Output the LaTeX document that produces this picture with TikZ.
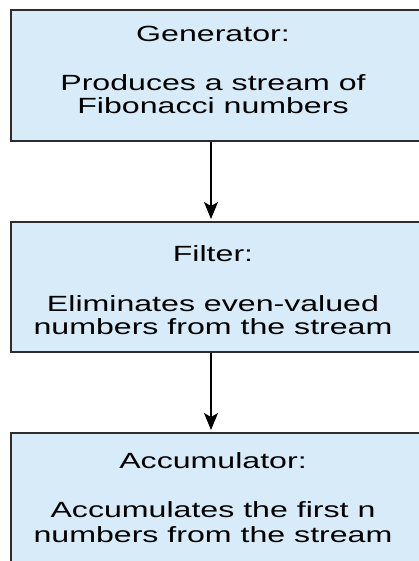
\documentclass[tikz,border=0pt]{standalone}
\usepackage{fontspec}
\setmainfont{Liberation Sans}[FakeStretch=1.46]
\usetikzlibrary{arrows.meta}
\definecolor{stagefill}{RGB}{215,235,249}
\definecolor{stageline}{RGB}{45,45,45}

\begin{document}
\begin{tikzpicture}[x=1pt,y=-1pt,
				stage/.style={draw=stageline,line width=2pt,fill=stagefill,rectangle,
					minimum width=450pt,inner sep=0pt},
				txt/.style={anchor=base,inner sep=0pt,font=\fontsize{22}{23}\selectfont},
				flow/.style={line width=1.3pt,-{Stealth[length=17pt,width=14pt,inset=4pt]},
					shorten >=2pt}]
\useasboundingbox (0,0) rectangle (419,561);
\clip (0,0) rectangle (419,561);
\fill[white] (0,0) rectangle (419,561);
% the three stages, running off the right edge
\node[stage,minimum height=131pt] (gen) at (236,75.5) {};
\node[stage,minimum height=130pt] (filt) at (236,287) {};
\node[stage,minimum height=131pt] (acc) at (236,498.5) {};
% texts
\node[txt] (genT) at (213,42) {Generator:};
\node[txt] (genA) at (213,91) {Produces a stream of};
\node[txt] (genB) at (213,113.5) {Fibonacci numbers};
\node[txt] (filtT) at (213,261.5) {Filter:};
\node[txt] (filtA) at (213,311) {Eliminates even-valued};
\node[txt] (filtB) at (213,334) {numbers from the stream};
\node[txt] (accT) at (213,468.5) {Accumulator:};
\node[txt] (accA) at (213,517.5) {Accumulates the first n};
\node[txt] (accB) at (213,542) {numbers from the stream};
% arrows
\draw[flow] ([xshift=-25pt]gen.south) -- ([xshift=-25pt]filt.north);
\draw[flow] ([xshift=-25pt]filt.south) -- ([xshift=-25pt]acc.north);
\end{tikzpicture}
\end{document}
